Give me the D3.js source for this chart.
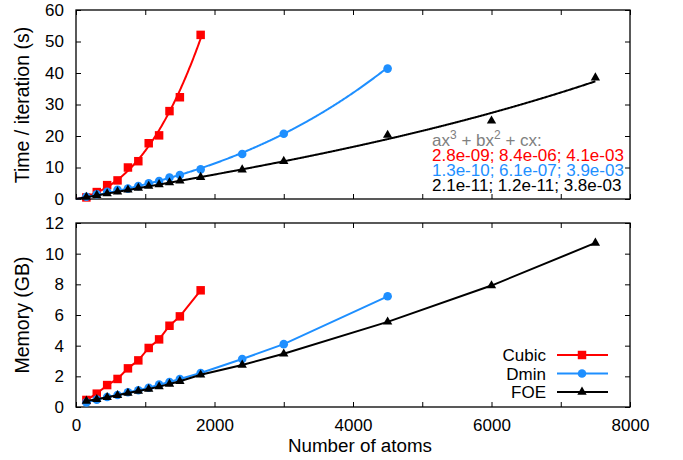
<!DOCTYPE html>
<html><head><meta charset="utf-8">
<script src="https://cdn.jsdelivr.net/npm/d3@7"></script>
<style>
body{margin:0;background:#fff}
text{font-family:"Liberation Sans",Arial,Helvetica,sans-serif}
</style></head><body>
<svg id="c" width="683" height="460"></svg>
<script>
// ---------- data ----------
const seriesNames = ["Cubic", "Dmin", "FOE"];
const seriesColors = ["#ff0000", "#1e8fff", "#000000"];
const atomsCubic = [150, 300, 450, 600, 750, 900, 1050, 1200, 1350, 1500, 1800];
const atomsDmin  = [150, 300, 450, 600, 750, 900, 1050, 1200, 1350, 1500, 1800, 2400, 3000, 4500];
const atomsFOE   = [150, 300, 450, 600, 750, 900, 1050, 1200, 1350, 1500, 1800, 2400, 3000, 4500, 6000, 7500];
const timeCubic = [0.5, 2.2, 4.4, 5.9, 10.0, 12.0, 17.7, 20.2, 27.9, 32.3, 52.1];
const timeDmin  = [0.7, 1.5, 2.3, 2.9, 3.3, 4.1, 5.0, 5.7, 6.8, 7.6, 9.4, 14.3, 20.7, 41.4];
const timeFOE   = [0.6, 1.2, 1.7, 2.3, 2.9, 3.5, 4.1, 4.6, 5.2, 5.8, 6.9, 9.3, 12.0, 20.3, 24.8, 38.5];
const memCubic = [0.46, 0.87, 1.43, 1.83, 2.52, 3.04, 3.85, 4.41, 5.30, 5.91, 7.61];
const memDmin  = [0.30, 0.48, 0.65, 0.78, 0.96, 1.09, 1.26, 1.46, 1.63, 1.83, 2.22, 3.13, 4.10, 7.22];
const memFOE   = [0.39, 0.50, 0.63, 0.76, 0.91, 1.04, 1.17, 1.33, 1.50, 1.68, 2.10, 2.74, 3.47, 5.55, 7.92, 10.70];
// fit coefficients a, b, c of ax^3 + bx^2 + cx
const fitCubic = [2.8e-9, 8.4e-6, 4.1e-3];
const fitDmin  = [1.3e-10, 6.1e-7, 3.9e-3];
const fitFOE   = [2.1e-11, 1.2e-11, 3.8e-3];
const fitLabels = ["2.8e-09; 8.4e-06; 4.1e-03", "1.3e-10; 6.1e-07; 3.9e-03", "2.1e-11; 1.2e-11; 3.8e-03"];
const xTicks = [0, 1000, 2000, 3000, 4000, 5000, 6000, 7000, 8000];
const timeTicks = [0, 10, 20, 30, 40, 50, 60];
const memTicks = [0, 2, 4, 6, 8, 10, 12];

// ---------- layout ----------
const svg = d3.select("#c");
const FS = 17, TFS = 18.8;
const x = d3.scaleLinear().domain([0, 8000]).range([76, 630]);
const yT = d3.scaleLinear().domain([0, 60]).range([199, 10]);
const yM = d3.scaleLinear().domain([0, 12]).range([407, 223]);

const series = [
  {atoms: atomsCubic, time: timeCubic, mem: memCubic, fit: fitCubic, sym: d3.symbolSquare, size: 72},
  {atoms: atomsDmin, time: timeDmin, mem: memDmin, fit: fitDmin, sym: d3.symbolCircle, size: 58},
  {atoms: atomsFOE, time: timeFOE, mem: memFOE, fit: fitFOE, sym: d3.symbolTriangle, size: 38}
];

function frame(y, ticks, showX) {
  const x0 = x.range()[0], x1 = x.range()[1];
  const y0 = y.range()[0], y1 = y.range()[1];
  const ax = (g) => { g.select(".domain").remove(); g.selectAll("line").attr("stroke", "#000").attr("stroke-width", 1); g.selectAll("text").attr("font-size", FS).attr("fill", "#000").style("font-family", '"Liberation Sans",Arial,sans-serif'); };
  svg.append("g").attr("transform", `translate(${x0},0)`)
    .call(d3.axisLeft(y).tickValues(ticks).tickSizeInner(-5).tickSizeOuter(0).tickPadding(12)).call(ax);
  svg.append("g").attr("transform", `translate(${x1},0)`)
    .call(d3.axisRight(y).tickValues(ticks).tickSizeInner(-5).tickSizeOuter(0).tickFormat("")).call(ax);
  svg.append("g").attr("transform", `translate(0,${y1})`)
    .call(d3.axisTop(x).tickValues(xTicks).tickSizeInner(-5).tickSizeOuter(0).tickFormat("")).call(ax);
  svg.append("g").attr("transform", `translate(0,${y0})`)
    .call(d3.axisBottom(x).tickValues(xTicks).tickSizeInner(-5).tickSizeOuter(0).tickPadding(12)
      .tickFormat(d => showX && d % 2000 === 0 ? d : "")).call(ax);
  svg.append("rect").attr("x", x0).attr("y", y1).attr("width", x1 - x0).attr("height", y0 - y1)
    .attr("fill", "none").attr("stroke", "#000").attr("stroke-width", 1.3);
}

function marks(g, s, i, y, vals) {
  g.selectAll(null).data(s.atoms).enter().append("path")
    .attr("d", d3.symbol().type(s.sym).size(s.size))
    .attr("transform", (d, j) => `translate(${x(d)},${y(vals[j])})`)
    .attr("fill", seriesColors[i]);
}

// ---------- top panel ----------
frame(yT, timeTicks, false);
const gT = svg.append("g");
series.forEach((s, i) => {
  const xmax = s.atoms[s.atoms.length - 1];
  const pts = d3.range(0, xmax + 1, 10).map(v => [v, s.fit[0] * v * v * v + s.fit[1] * v * v + s.fit[2] * v]);
  gT.append("path").datum(pts)
    .attr("d", d3.line().x(d => x(d[0])).y(d => yT(d[1])))
    .attr("fill", "none").attr("stroke", seriesColors[i]).attr("stroke-width", 2);
  marks(gT, s, i, yT, s.time);
});

// annotation (one multi-line text block)
const t0 = svg.append("text").attr("x", 432).attr("y", 146).attr("font-size", FS).attr("fill", "#808080");
t0.append("tspan").text("ax");
t0.append("tspan").attr("dy", -7).attr("font-size", 12).text("3");
t0.append("tspan").attr("dy", 7).text(" + bx");
t0.append("tspan").attr("dy", -7).attr("font-size", 12).text("2");
t0.append("tspan").attr("dy", 7).text(" + cx:");
fitLabels.forEach((t, i) => {
  t0.append("tspan").attr("x", 432).attr("dy", 15).attr("fill", seriesColors[i]).text(t);
});

// ---------- bottom panel ----------
frame(yM, memTicks, true);
const gM = svg.append("g");
series.forEach((s, i) => {
  gM.append("path").datum(s.atoms.map((a, j) => [a, s.mem[j]]))
    .attr("d", d3.line().x(d => x(d[0])).y(d => yM(d[1])))
    .attr("fill", "none").attr("stroke", seriesColors[i]).attr("stroke-width", 2);
  marks(gM, s, i, yM, s.mem);
});

// legend
const lg = svg.append("g").attr("font-size", FS);
seriesNames.forEach((n, i) => {
  const yy = 355 + i * 18.5;
  lg.append("text").attr("x", 546).attr("y", yy + 6).attr("text-anchor", "end").attr("fill", "#000").text(n);
  lg.append("line").attr("x1", 557).attr("x2", 608).attr("y1", yy).attr("y2", yy)
    .attr("stroke", seriesColors[i]).attr("stroke-width", 2);
  lg.append("path").attr("d", d3.symbol().type(series[i].sym).size(series[i].size))
    .attr("transform", `translate(582,${yy})`).attr("fill", seriesColors[i]);
});

// axis titles
svg.append("text").attr("x", 360).attr("y", 452).attr("text-anchor", "middle").attr("font-size", TFS).text("Number of atoms");
svg.append("text").attr("transform", "translate(29,105) rotate(-90)").attr("text-anchor", "middle").attr("font-size", 19.5).text("Time / iteration (s)");
svg.append("text").attr("transform", "translate(29,315) rotate(-90)").attr("text-anchor", "middle").attr("font-size", 19.5).text("Memory (GB)");
</script>
</body></html>
